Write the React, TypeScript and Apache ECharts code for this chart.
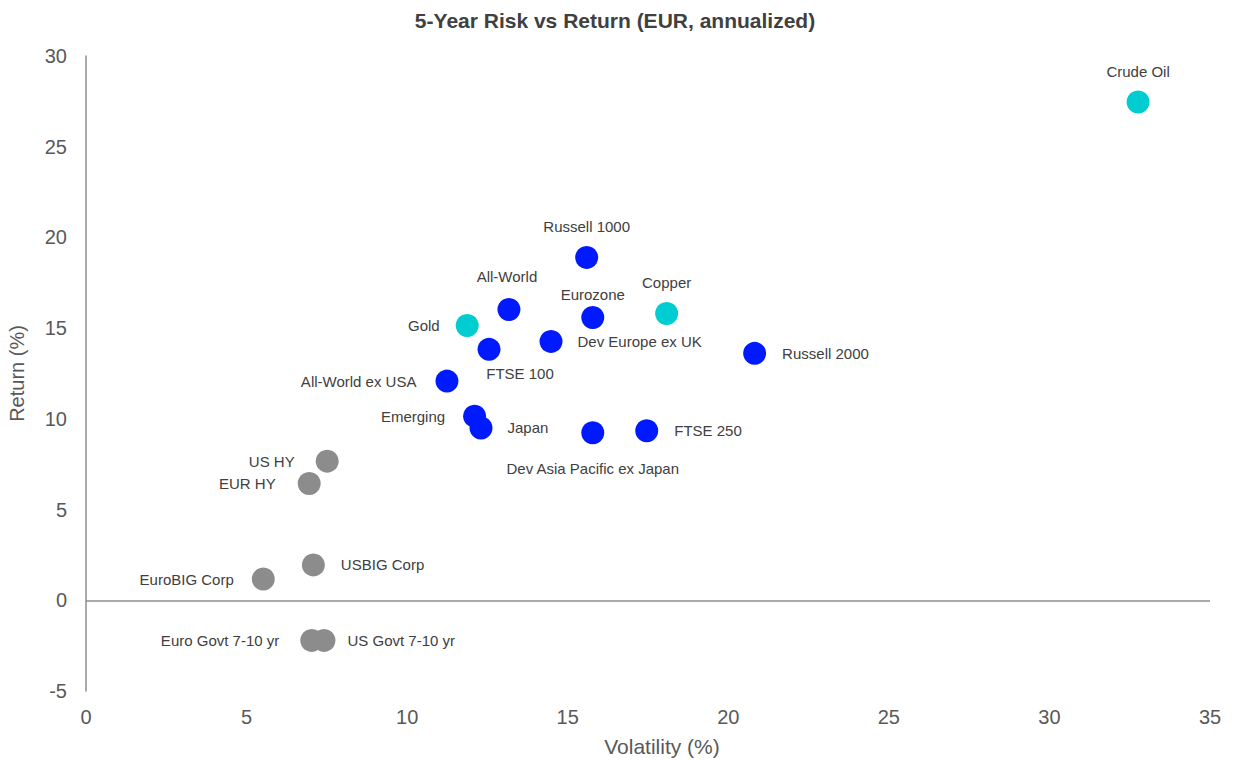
import React, { useEffect, useRef } from "react";
import * as echarts from "echarts";

const names = [
  "Crude Oil", "Russell 1000", "All-World", "Copper", "Eurozone", "Gold",
  "Dev Europe ex UK", "FTSE 100", "Russell 2000", "All-World ex USA", "Emerging",
  "Japan", "Dev Asia Pacific ex Japan", "FTSE 250", "US HY", "EUR HY",
  "USBIG Corp", "EuroBIG Corp", "Euro Govt 7-10 yr", "US Govt 7-10 yr",
];
const volatility = [
  32.76, 15.59, 13.17, 18.08, 15.78, 11.87, 14.48, 12.55, 20.82, 11.24, 12.10,
  12.30, 15.78, 17.46, 7.51, 6.95, 7.08, 5.52, 7.03, 7.41,
];
const returns = [
  27.46, 18.90, 16.03, 15.81, 15.59, 15.15, 14.27, 13.83, 13.61, 12.08, 10.15,
  9.50, 9.23, 9.34, 7.67, 6.44, 1.95, 1.17, -2.21, -2.21,
];
// asset group: equity, commodity, fixed income
const groups = [
  "commodity", "equity", "equity", "commodity", "equity", "commodity",
  "equity", "equity", "equity", "equity", "equity",
  "equity", "equity", "equity", "fixed", "fixed",
  "fixed", "fixed", "fixed", "fixed",
];
// label placement per point
const labelPos = [
  "top", "top", "top", "top", "top", "left",
  "right", "bottom", "right", "left", "left",
  "right", "bottom", "right", "left", "left",
  "right", "left", "left", "right",
];
const labelDist = [
  12, 12, 14, 12, 4, 16,
  15, 5, 16, 19, 18,
  15, 17, 16, 21, 22,
  16, 18, 21, 12,
];
const labelOffsetX = [0, 0, -2, 0, 0, 0, 0, 31, 0, 0, 0, 0, 0, 0, 0, 0, 0, 0, 0, 0];

const xTicks = [0, 5, 10, 15, 20, 25, 30, 35];
const yTicks = [-5, 0, 5, 10, 15, 20, 25, 30];

const groupColors: Record<string, string> = {
  equity: "#0019FF",
  commodity: "#00CDD2",
  fixed: "#8C8C8C",
};

const FONT = "'Liberation Sans', Arial, sans-serif";

export default function App() {
  const ref = useRef<HTMLDivElement>(null);
  useEffect(() => {
    if (!ref.current) return;
    const chart = echarts.init(ref.current, undefined, { renderer: "svg" });
    const data = names.map((n, i) => ({
      name: n,
      value: [volatility[i], returns[i]],
      itemStyle: { color: groupColors[groups[i]], opacity: 1 },
      label: {
        show: true,
        position: labelPos[i],
        distance: labelDist[i],
        offset: [labelOffsetX[i], 0],
        formatter: n,
      },
    }));
    chart.setOption({
      animation: false,
      textStyle: { fontFamily: FONT },
      title: {
        text: "5-Year Risk vs Return (EUR, annualized)",
        left: 610,
        textAlign: "center",
        top: 5,
        textStyle: { fontSize: 21, fontWeight: "bold", color: "#404040", fontFamily: FONT },
      },
      grid: { left: 86, right: 28, top: 56, bottom: 69, outerBoundsMode: "none", containLabel: false },
      xAxis: {
        type: "value",
        min: xTicks[0],
        max: xTicks[xTicks.length - 1],
        interval: 5,
        name: "Volatility (%)",
        nameLocation: "middle",
        nameGap: 45,
        nameTextStyle: { fontSize: 21, color: "#595959", padding: [0, 0, 0, 28] },
        axisLine: { show: false, onZero: false },
        axisTick: { show: false },
        splitLine: { show: false },
        axisLabel: { fontSize: 20, color: "#595959", margin: 16 },
      },
      yAxis: {
        type: "value",
        min: yTicks[0],
        max: yTicks[yTicks.length - 1],
        interval: 5,
        name: "Return (%)",
        nameLocation: "middle",
        nameGap: 59,
        nameTextStyle: { fontSize: 20, color: "#595959" },
        axisLine: { show: true, onZero: false, lineStyle: { color: "#8C8C8C", width: 1.5 } },
        axisTick: { show: false },
        splitLine: { show: false },
        axisLabel: { fontSize: 20, color: "#595959", margin: 19 },
      },
      series: [
        {
          type: "scatter",
          symbol: "circle",
          symbolSize: 23,
          data,
          label: { fontSize: 15, color: "#404040", fontFamily: FONT },
          markLine: {
            silent: true,
            symbol: ["none", "none"],
            label: { show: false },
            lineStyle: { color: "#8C8C8C", width: 1.5, type: "solid" },
            data: [{ yAxis: 0 }],
          },
        },
      ],
    });
    return () => chart.dispose();
  }, []);
  return <div ref={ref} style={{ width: 1238, height: 760, position: "absolute", left: 0, top: 0 }} />;
}
